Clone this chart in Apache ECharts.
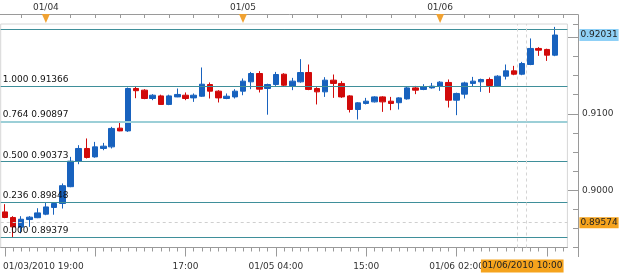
<!DOCTYPE html>
<html><head><meta charset="utf-8">
<script src="https://cdn.jsdelivr.net/npm/echarts@6/dist/echarts.min.js"></script>
<style>html,body{margin:0;padding:0;background:#fff}#c{width:625px;height:278px}</style>
</head><body><div id="c"></div>
<script>
const times = [
'01/03 19:00','01/03 20:00','01/03 21:00','01/03 22:00','01/03 23:00',
'01/04 00:00','01/04 01:00','01/04 02:00','01/04 03:00','01/04 04:00','01/04 05:00','01/04 06:00','01/04 07:00','01/04 08:00','01/04 09:00','01/04 10:00','01/04 11:00',
'01/04 12:00','01/04 13:00','01/04 14:00','01/04 15:00','01/04 16:00','01/04 17:00','01/04 18:00','01/04 19:00','01/04 20:00','01/04 21:00','01/04 22:00','01/04 23:00',
'01/05 00:00','01/05 01:00','01/05 02:00','01/05 03:00','01/05 04:00','01/05 05:00','01/05 06:00','01/05 07:00','01/05 08:00','01/05 09:00','01/05 10:00','01/05 11:00',
'01/05 12:00','01/05 13:00','01/05 14:00','01/05 15:00','01/05 16:00','01/05 17:00','01/05 18:00','01/05 19:00','01/05 20:00','01/05 21:00','01/05 22:00','01/05 23:00',
'01/06 00:00','01/06 01:00','01/06 02:00','01/06 03:00','01/06 04:00','01/06 05:00','01/06 06:00','01/06 07:00','01/06 08:00','01/06 09:00','01/06 10:00','01/06 11:00',
'01/06 12:00','01/06 13:00','01/06 14:00','01/06 15:00'];

const opens = [0.89716,0.89643,0.89516,0.89616,0.89640,0.89686,0.89774,0.89826,0.90046,0.90380,
0.90546,0.90436,0.90546,0.90567,0.90812,0.90776,0.91331,0.91309,0.91200,0.91234,
0.91122,0.91221,0.91243,0.91208,0.91230,0.91383,0.91296,0.91200,0.91221,0.91296,
0.91418,0.91527,0.91331,0.91383,0.91518,0.91365,0.91418,0.91540,0.91331,0.91287,
0.91440,0.91397,0.91234,0.91056,0.91135,0.91156,0.91221,0.91165,0.91145,0.91195,
0.91339,0.91318,0.91339,0.91361,0.91410,0.91178,0.91257,0.91397,0.91418,0.91449,
0.91365,0.91492,0.91562,0.91518,0.91645,0.91855,0.91842,0.91767];
const closes = [0.89643,0.89520,0.89620,0.89647,0.89703,0.89781,0.89826,0.90059,0.90380,0.90546,
0.90428,0.90567,0.90576,0.90808,0.90776,0.91331,0.91302,0.91200,0.91243,0.91122,
0.91234,0.91253,0.91200,0.91243,0.91387,0.91296,0.91208,0.91230,0.91296,0.91427,
0.91527,0.91322,0.91383,0.91514,0.91374,0.91427,0.91540,0.91318,0.91287,0.91440,
0.91397,0.91221,0.91056,0.91143,0.91165,0.91221,0.91156,0.91135,0.91208,0.91339,
0.91309,0.91352,0.91361,0.91414,0.91178,0.91266,0.91404,0.91427,0.91449,0.91370,
0.91492,0.91562,0.91518,0.91658,0.91855,0.91832,0.91767,0.92031];
const lows = [0.89634,0.89379,0.89437,0.89520,0.89634,0.89673,0.89679,0.89760,0.90039,0.90340,
0.90415,0.90425,0.90523,0.90546,0.90772,0.90763,0.91204,0.91191,0.91178,0.91119,
0.91113,0.91217,0.91178,0.91156,0.91221,0.91200,0.91148,0.91191,0.91200,0.91243,
0.91322,0.91279,0.90988,0.91365,0.91361,0.91309,0.91407,0.91309,0.91122,0.91221,
0.91208,0.91208,0.91017,0.90925,0.91122,0.91148,0.91025,0.91047,0.91056,0.91185,
0.91257,0.91309,0.91329,0.91300,0.91082,0.90982,0.91200,0.91361,0.91287,0.91274,
0.91355,0.91449,0.91505,0.91505,0.91636,0.91758,0.91692,0.91754];
const highs = [0.89817,0.89660,0.89660,0.89660,0.89764,0.89843,0.89843,0.90088,0.90436,0.90589,
0.90677,0.90632,0.90619,0.90829,0.90894,0.91344,0.91355,0.91322,0.91257,0.91250,
0.91250,0.91331,0.91279,0.91266,0.91606,0.91410,0.91309,0.91266,0.91322,0.91462,
0.91548,0.91558,0.91394,0.91548,0.91531,0.91470,0.91715,0.91645,0.91348,0.91479,
0.91514,0.91427,0.91243,0.91152,0.91208,0.91230,0.91230,0.91221,0.91217,0.91355,
0.91365,0.91387,0.91404,0.91427,0.91449,0.91276,0.91420,0.91483,0.91460,0.91475,
0.91505,0.91645,0.91627,0.91679,0.91986,0.91872,0.91852,0.92137];

const fibRatios = ['0.000','0.236','0.500','0.764','1.000'];
const fibPrices = [0.89379,0.89848,0.90373,0.90897,0.91366];
const topLinePrice = 0.92110;
const lastPrice = 0.92031;
const markPrice = 0.89574;
const cursorIdx = 63;
const cursorEdges = [62.45, 63.55];
const cursorLabel = '01/06/2010 10:00';
const dayMarkIdx = [5, 29, 53];
const dayMarkLabels = ['01/04', '01/05', '01/06'];
const timeLabelIdx = [0, 22, 33, 44, 55];
const timeLabels = ['01/03/2010 19:00', '17:00', '01/05 04:00', '15:00', '01/06 02:00'];
const yMajorTicks = [0.90, 0.91, 0.92];
const yLabelTicks = [0.90, 0.91];
const yMin = 0.8925, yMax = 0.92175;

const FONT = 'DejaVu Sans';
const TXT = '#333';
const FRAME = '#9a9a9a';
const TEAL = '#3f8f9a';

const candleData = opens.map((o, i) => [o, closes[i], lows[i], highs[i]]);
candleData.push('-');

const fibLines = fibPrices.map((p, i) => ({
  yAxis: p,
  lineStyle: fibRatios[i] === '0.764' ? {color: '#9ccfd7', width: 2, type: 'solid'} : {color: TEAL, width: 1, type: 'solid'},
  label: {show: true, position: 'insideStartTop', distance: [2, 2], formatter: fibRatios[i] + ' ' + p.toFixed(5),
    color: '#111', fontFamily: FONT, fontSize: 9}
}));

const chart = echarts.init(document.getElementById('c'), null, {renderer: 'canvas'});
chart.setOption({
  animation: false,
  backgroundColor: '#fff',
  grid: {left: -2.13, right: 57.6, top: 24, bottom: 30.5, show: true, borderColor: '#d6d6d6', borderWidth: 1},
  graphic: [{
    type: 'polyline', silent: true, z: 0,
    shape: {points: [[0, 14.5], [578.5, 14.5], [578.5, 257]]},
    style: {stroke: FRAME, lineWidth: 1, fill: null}
  }],
  xAxis: [
    { type: 'category', data: times, position: 'bottom', boundaryGap: true,
      axisLine: {show: true, onZero: false, lineStyle: {color: FRAME}},
      axisTick: {show: true, alignWithLabel: true, interval: 0, length: 4, lineStyle: {color: FRAME}},
      axisLabel: {show: false}, splitLine: {show: false} },
    { type: 'category', data: times, position: 'top', offset: 10, boundaryGap: true,
      axisLine: {show: false, onZero: false},
      axisTick: {show: true, inside: true, alignWithLabel: true, interval: (i) => i % 3 === 2, length: 4, lineStyle: {color: FRAME}},
      axisLabel: {show: true, interval: (i) => dayMarkIdx.includes(i), margin: 2,
        formatter: (v, i) => dayMarkLabels[dayMarkIdx.indexOf(i)] || '', color: TXT, fontFamily: FONT, fontSize: 9},
      splitLine: {show: false} },
    { type: 'category', data: times, position: 'bottom', boundaryGap: true,
      axisLine: {show: false, onZero: false},
      axisTick: {show: true, alignWithLabel: true, interval: (i) => i % 11 === 0, length: 9, lineStyle: {color: FRAME}},
      axisLabel: {show: true, interval: (i) => timeLabelIdx.includes(i), margin: 15, color: TXT, fontFamily: FONT, fontSize: 9,
        formatter: (v, i) => { const k = timeLabelIdx.indexOf(i); if (k < 0) return ''; return k === 0 ? '{f|' + timeLabels[k] + '}' : timeLabels[k]; },
        rich: {f: {padding: [0, 0, 0, 77], color: TXT, fontFamily: FONT, fontSize: 9}} },
      splitLine: {show: false} },
    { type: 'category', data: times, position: 'bottom', boundaryGap: true,
      axisLine: {show: false, onZero: false}, axisTick: {show: false},
      axisLabel: {show: true, interval: (i) => i === cursorIdx, margin: 12, formatter: () => cursorLabel,
        color: '#222', fontFamily: FONT, fontSize: 9, backgroundColor: '#f5a31d', padding: [2, 1, 2, 1]},
      splitLine: {show: false} },
    { type: 'value', show: false, min: -0.5, max: times.length - 0.5, axisLine: {onZero: false} }
  ],
  yAxis: [
    { type: 'value', position: 'right', offset: 10.6, min: yMin, max: yMax, interval: 0.0025, scale: true,
      axisLine: {show: false, onZero: false},
      axisTick: {show: true, inside: true, length: 5, lineStyle: {color: FRAME}},
      axisLabel: {show: false}, splitLine: {show: false} },
    { type: 'value', position: 'right', offset: 10.6, min: yMin, max: yMax, scale: true,
      axisLine: {show: false, onZero: false},
      axisTick: {show: true, inside: true, length: 10, customValues: yMajorTicks, lineStyle: {color: FRAME}},
      axisLabel: {show: true, customValues: yLabelTicks, margin: 4, formatter: (v) => v.toFixed(4), color: TXT, fontFamily: FONT, fontSize: 9},
      splitLine: {show: false} }
  ],
  series: [{
    type: 'candlestick', xAxisIndex: 0, yAxisIndex: 0, clip: false,
    data: candleData, barWidth: 6,
    itemStyle: {color: '#1862be', color0: '#d10a0a', borderColor: '#1862be', borderColor0: '#d10a0a', borderWidth: 1},
    markLine: {
      silent: true, symbol: ['none', 'none'], animation: false, precision: 6,
      data: [
        ...fibLines,
        {yAxis: topLinePrice, lineStyle: {color: TEAL, width: 1, type: 'solid'}, label: {show: false}},
        {yAxis: markPrice, lineStyle: {color: '#cfcfcf', width: 1, type: [3, 3]},
          label: {show: true, position: 'end', distance: 12, formatter: markPrice.toFixed(5), color: '#222', fontFamily: FONT, fontSize: 9,
            backgroundColor: '#f5a31d', padding: [1, 1, 1, 1]}},
        {yAxis: lastPrice, lineStyle: {color: 'rgba(0,0,0,0)', width: 0},
          label: {show: true, position: 'end', distance: 12, formatter: lastPrice.toFixed(5), color: '#222', fontFamily: FONT, fontSize: 9,
            backgroundColor: '#8fd0f6', padding: [2, 1, 1, 1]}}
      ]
    },
    markPoint: {
      silent: true, animation: false,
      symbol: 'triangle', symbolRotate: 180, symbolSize: [8, 9], symbolOffset: [0, -5.5],
      itemStyle: {color: '#f0a232'}, label: {show: false},
      data: dayMarkIdx.map(i => ({coord: [i, yMax]}))
    }
  }, {
    type: 'line', xAxisIndex: 4, yAxisIndex: 0, data: [], silent: true,
    markLine: {
      silent: true, symbol: ['none', 'none'], animation: false, precision: 6,
      data: cursorEdges.map(x => ({xAxis: x, lineStyle: {color: '#d4d4d4', width: 1, type: [3, 3]}, label: {show: false}}))
    }
  }]
});
</script></body></html>
